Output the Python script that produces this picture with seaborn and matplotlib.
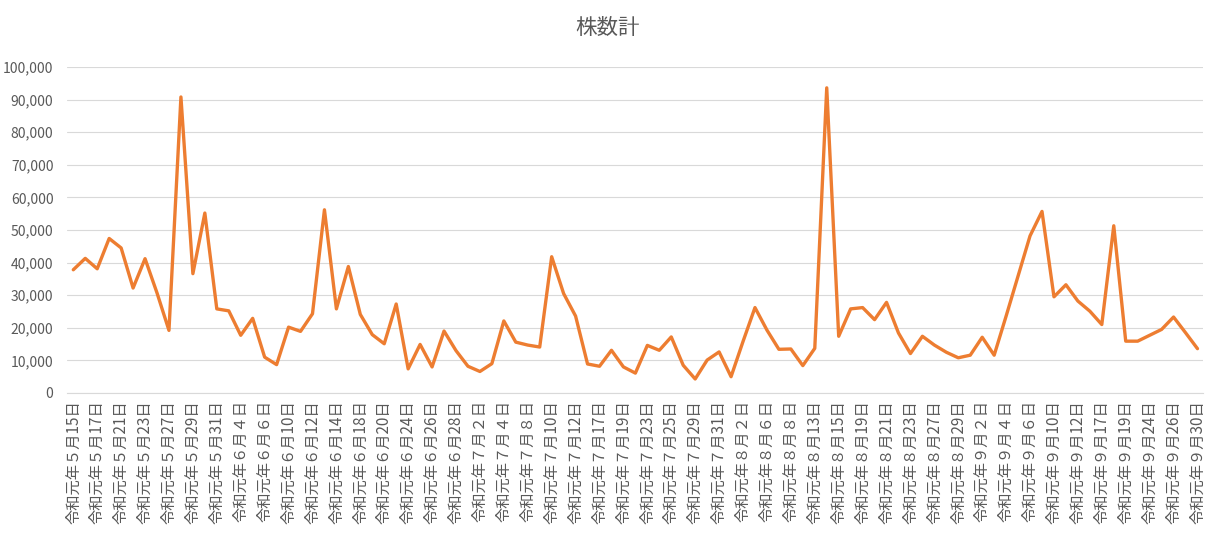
import pandas as pd
import seaborn as sns
import matplotlib.pyplot as plt
from matplotlib.ticker import FuncFormatter

# 取引日（令和元年）
may_days = [15, 16, 17, 20, 21, 22, 23, 24, 27, 28, 29, 30, 31]
jun_days = [3, 4, 5, 6, 7, 10, 11, 12, 13, 14, 17, 18, 19, 20, 21, 24, 25, 26, 27, 28]
jul_days = [1, 2, 3, 4, 5, 8, 9, 10, 11, 12, 16, 17, 18, 19, 22, 23, 24, 25, 26, 29, 30, 31]
aug_days = [1, 2, 5, 6, 7, 8, 9, 13, 14, 15, 16, 19, 20, 21, 22, 23, 26, 27, 28, 29, 30]
sep_days = [2, 3, 4, 5, 6, 9, 10, 11, 12, 13, 17, 18, 19, 20, 24, 25, 26, 27, 30]

# 株数計
kabusu = [37800, 41300, 38100, 47400, 44500, 32200, 41200, 30700, 19200, 90800,
          36600, 55200, 25800, 25200, 17700, 22900, 11000, 8700, 20200, 18900,
          24300, 56200, 25800, 38800, 24100, 17900, 15100, 27300, 7400, 14900,
          8000, 19000, 13000, 8200, 6600, 9000, 22100, 15600, 14700, 14100,
          41800, 30500, 23600, 8900, 8200, 13100, 8000, 6100, 14600, 13100,
          17200, 8500, 4300, 10100, 12600, 5000, 15800, 26200, 19300, 13400,
          13500, 8400, 13700, 93600, 17400, 25800, 26200, 22500, 27800, 18400,
          12100, 17400, 14700, 12500, 10800, 11600, 17100, 11600, 23600, 35900,
          48200, 55700, 29500, 33200, 28200, 25100, 21000, 51300, 15900, 15900,
          17700, 19500, 23300, 18500, 13600]


def zen(n):
    # 一桁は全角で表示
    s = str(n)
    if len(s) == 1:
        return chr(ord('０') + n)
    return s


labels = []
for m, days in [(5, may_days), (6, jun_days), (7, jul_days), (8, aug_days), (9, sep_days)]:
    for d in days:
        labels.append(f"令和元年{zen(m)}月{zen(d)}日")

df = pd.DataFrame({'idx': range(len(kabusu)), 'kabusu': kabusu})

sns.set_style('white')
plt.rcParams['font.family'] = ['Noto Sans CJK JP', 'DejaVu Sans']

gray = '#595959'
fig, ax = plt.subplots(figsize=(12.15, 5.36), dpi=100)
fig.subplots_adjust(left=0.0554, right=0.9905, bottom=0.2668, top=0.875)

sns.lineplot(data=df, x='idx', y='kabusu', color='#ED7D31', linewidth=2.4, ax=ax)

ax.set_xlim(-0.5, len(kabusu) - 0.5)
ax.set_ylim(0, 100000)
ax.set_yticks(range(0, 100001, 10000))
ax.yaxis.set_major_formatter(FuncFormatter(lambda v, p: f"{int(v):,}"))
ax.set_xticks(range(0, len(kabusu), 2))
ax.set_xticklabels(labels[::2], rotation=90)

ax.grid(axis='y', color='#D9D9D9', linewidth=0.8)
ax.set_axisbelow(True)
for s in ['top', 'right', 'left']:
    ax.spines[s].set_visible(False)
ax.spines['bottom'].set_color('#D9D9D9')
ax.tick_params(axis='y', length=0, pad=10, labelsize=10, labelcolor=gray)
ax.tick_params(axis='x', length=0, pad=5, labelsize=11, labelcolor=gray)
ax.set_xlabel('')
ax.set_ylabel('')

fig.text(0.5, 0.948, '株数計', ha='center', va='center', fontsize=15.5, color=gray)

plt.savefig('out.png', dpi=100)
